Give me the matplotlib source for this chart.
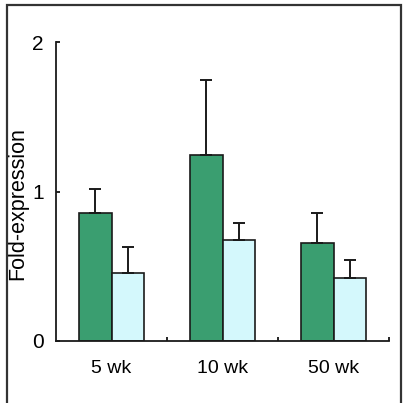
import matplotlib
matplotlib.use('Agg')
import matplotlib.pyplot as plt
from matplotlib.patches import Rectangle
import numpy as np

plt.rcParams['font.family'] = ['Liberation Sans', 'DejaVu Sans']

# data
groups = ['5 wk', '10 wk', '50 wk']
green_vals = [0.854, 1.244, 0.653]
green_err = [0.165, 0.500, 0.205]
blue_vals = [0.453, 0.676, 0.419]
blue_err = [0.178, 0.111, 0.123]

green = '#3a9e70'
light = '#d4f8fc'

fig = plt.figure(figsize=(4.03, 4.03), dpi=100)
ax = fig.add_axes([56/403, 1 - 341/403, 333/403, 299/403])

x = np.arange(len(groups))
w = 0.29
ax.bar(x - w/2, green_vals, w, color=green, edgecolor='#1a1a1a', linewidth=1.2)
ax.bar(x + w/2, blue_vals, w, color=light, edgecolor='#1a1a1a', linewidth=1.2)
ax.errorbar(x - w/2, green_vals, yerr=[np.zeros(3), green_err], fmt='none',
            ecolor='#1a1a1a', elinewidth=1.4, capsize=4, capthick=1.4)
ax.errorbar(x + w/2, blue_vals, yerr=[np.zeros(3), blue_err], fmt='none',
            ecolor='#1a1a1a', elinewidth=1.4, capsize=4, capthick=1.4)

ax.set_xlim(-0.5, 2.5)
ax.set_ylim(0, 2)
ax.set_yticks([0, 1, 2])
ax.set_xticks(x)
ax.set_xticklabels(groups)
ax.set_xticks([0.5, 1.5, 2.5], minor=True)
ax.tick_params(axis='x', which='major', length=0, pad=14, labelsize=14)
ax.tick_params(axis='x', which='minor', direction='in', length=3, width=1.2)
ax.tick_params(axis='y', direction='in', length=3, width=1.2, pad=9, labelsize=15)
ax.set_ylabel('Fold-expression', fontsize=15.5)
ax.yaxis.set_label_coords(-0.082, 0.46)

for s in ['top', 'right']:
    ax.spines[s].set_visible(False)
for s in ['left', 'bottom']:
    ax.spines[s].set_linewidth(1.3)
    ax.spines[s].set_color('#1a1a1a')

fig.patches.append(Rectangle((7/403, -0.02), 394/403, 1 - 5/403 + 0.02,
                             transform=fig.transFigure, fill=False,
                             edgecolor='#333333', linewidth=1.6))

fig.savefig('out.png', dpi=100)
